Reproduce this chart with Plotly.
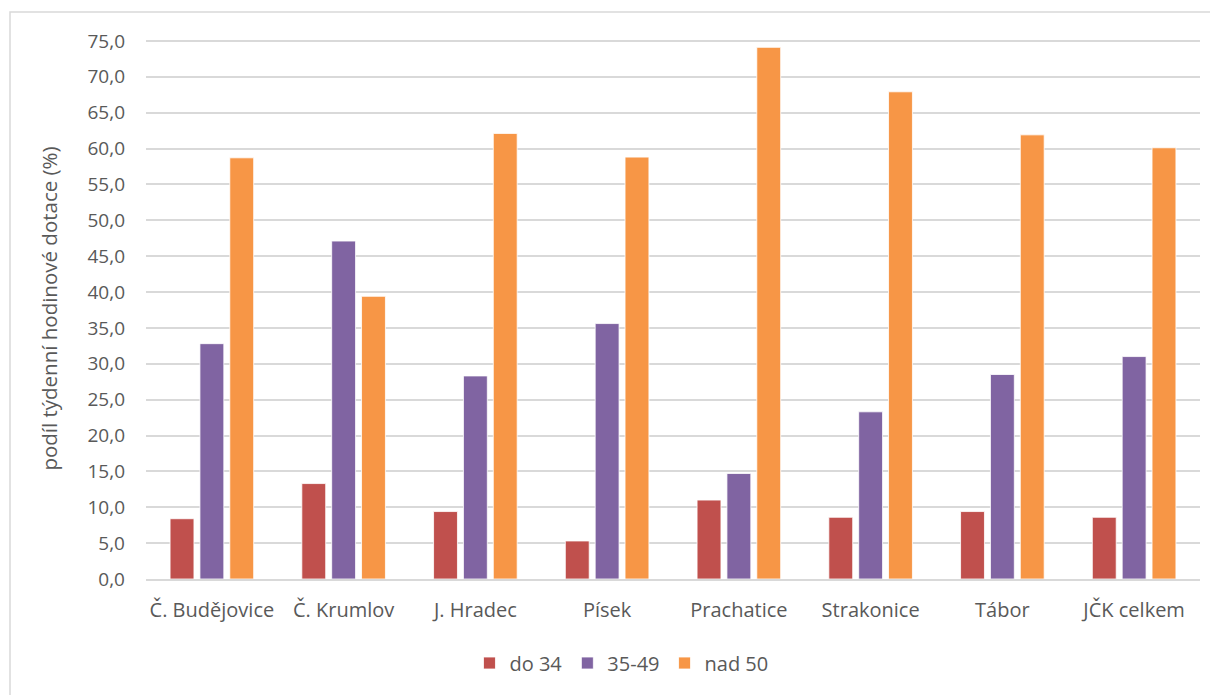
import plotly.graph_objects as go

categories = ["Č. Budějovice", "Č. Krumlov", "J. Hradec", "Písek", "Prachatice",
              "Strakonice", "Tábor", "JČK celkem"]
do34 = [8.4, 13.3, 9.4, 5.3, 11.0, 8.6, 9.4, 8.6]
s35_49 = [32.8, 47.1, 28.3, 35.6, 14.7, 23.3, 28.5, 31.0]
nad50 = [58.7, 39.4, 62.1, 58.8, 74.1, 67.9, 61.9, 60.1]
series_names = ["do 34", "35-49", "nad 50"]
colors = ["#C0504D", "#8064A2", "#F79646"]
y_ticks = [i * 5 for i in range(16)]

# page has an 8px body margin; figure coordinates are page coords minus 8
OFF = 8
W, H = 1218 - OFF, 695 - OFF
L, R, T, B = 146 - OFF, 18, 30, 116

fig = go.Figure()
for name, vals, col in zip(series_names, [do34, s35_49, nad50], colors):
    fig.add_trace(go.Bar(
        x=categories, y=vals, name=name,
        marker=dict(color=col, line=dict(color="white", width=0.8)),
    ))

pw = W - L - R
ph = H - T - B
fig.add_shape(type="rect", xref="paper", yref="paper",
              x0=(10 - OFF - L) / pw, x1=1.2, y0=-0.5, y1=(H - B - (12 - OFF)) / ph,
              line=dict(color="#D9D9D9", width=1.5), fillcolor="rgba(0,0,0,0)",
              layer="below")

font_family = "'Open Sans', Lato, sans-serif"
fig.update_layout(
    width=W, height=H,
    margin=dict(l=L, r=R, t=T, b=B, autoexpand=False),
    paper_bgcolor="white", plot_bgcolor="white",
    barmode="group", bargap=0.32, bargroupgap=0.2,
    separators=", ",
    font=dict(family=font_family, color="#595959", size=19),
    showlegend=True,
    legend=dict(orientation="h", x=0.507, xanchor="center", xref="container",
                yref="container", y=1 - (663 - OFF) / H, yanchor="middle",
                font=dict(size=20, color="#595959"), traceorder="normal"),
    xaxis=dict(showgrid=False, showline=True, linecolor="#D9D9D9", linewidth=1.5,
               ticks="", automargin=False, ticklabelstandoff=12,
               tickfont=dict(size=20, color="#595959")),
    yaxis=dict(range=[0, 75.4], tickvals=y_ticks, tickformat=".1f",
               showgrid=True, gridcolor="#D9D9D9", gridwidth=1.5, automargin=False,
               zeroline=False, showline=False, ticks="",
               tickfont=dict(size=19, color="#595959"), ticklabelstandoff=20,
               title=dict(text="podíl týdenní hodinové dotace (%)",
                          font=dict(size=20.5, color="#595959"), standoff=24)),
)

fig.write_html("out.html")
